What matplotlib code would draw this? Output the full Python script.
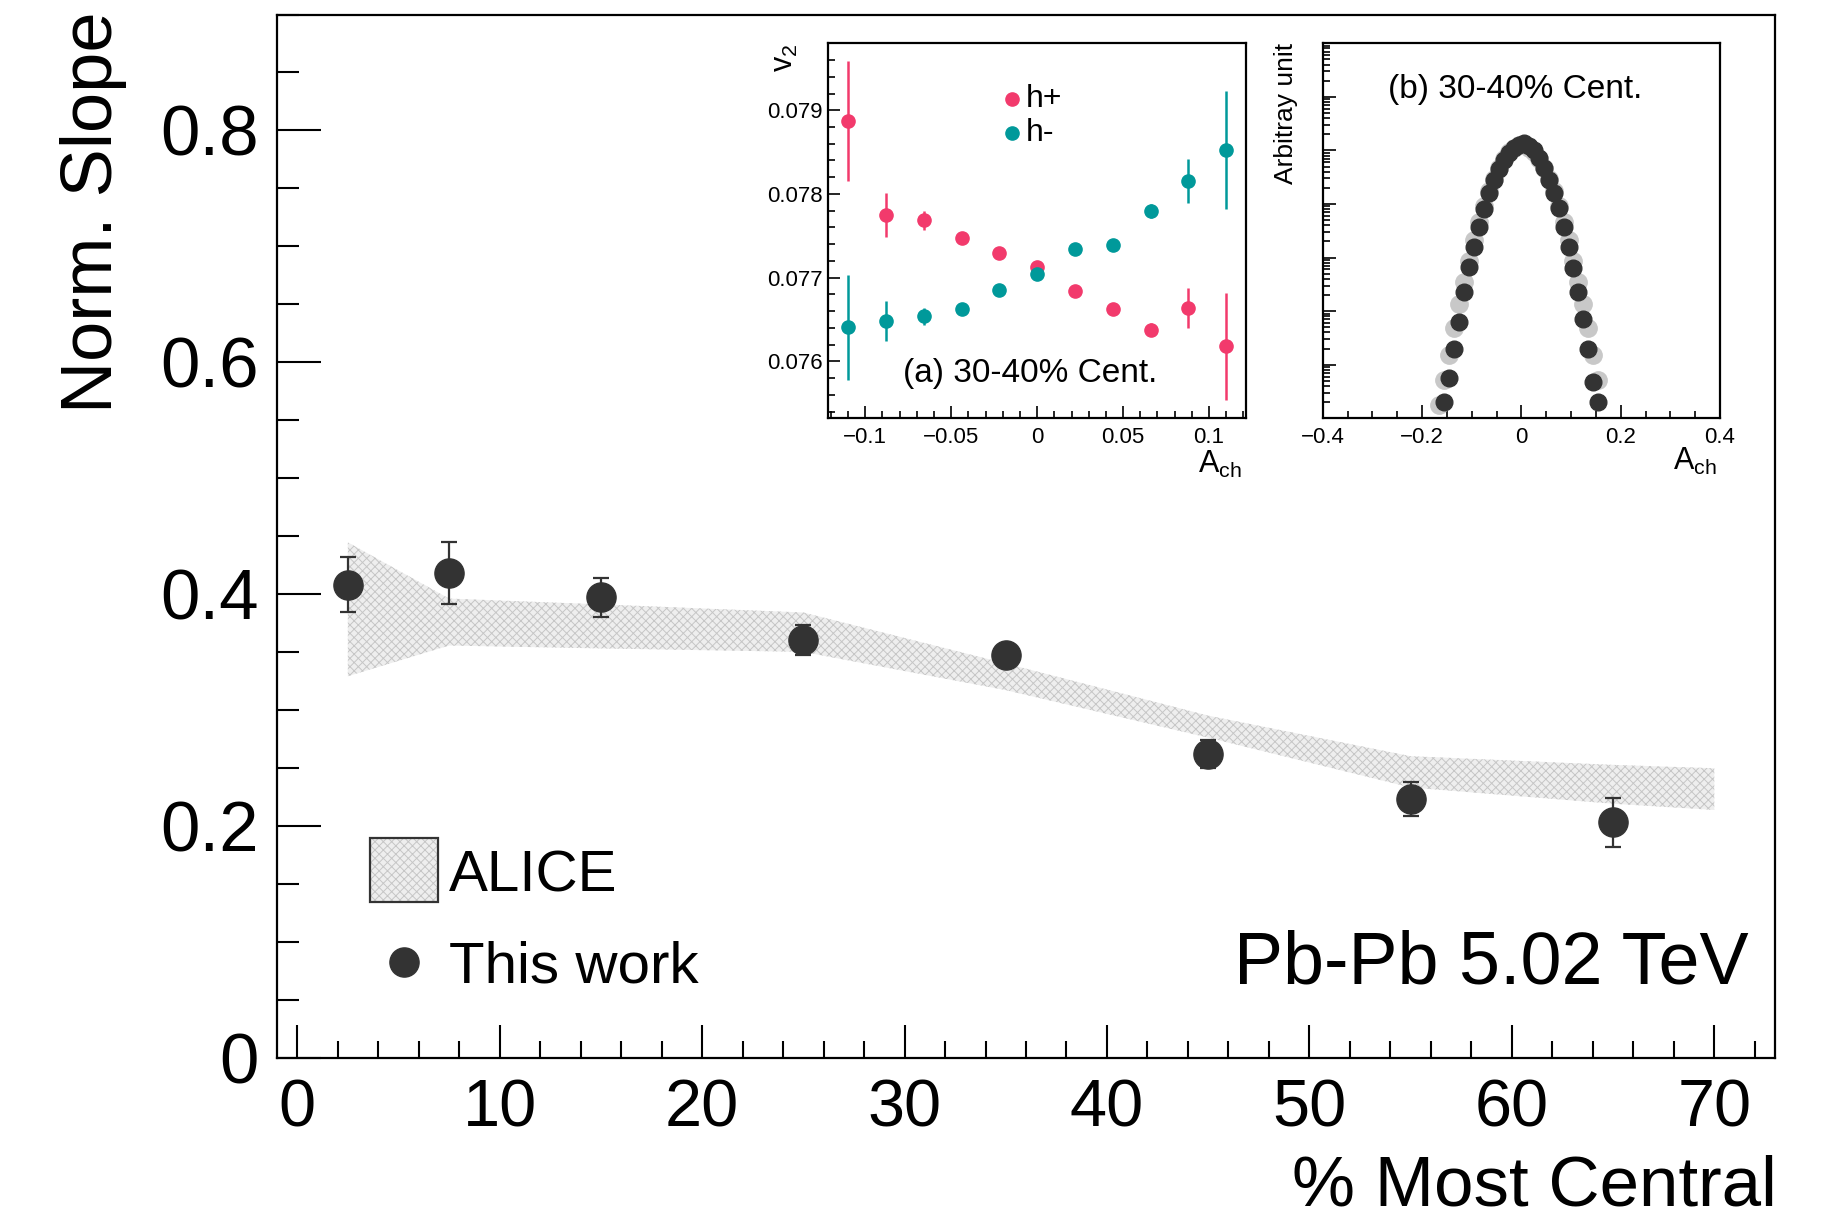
import matplotlib
matplotlib.use("Agg")
import matplotlib.pyplot as plt
from matplotlib.patches import Rectangle
from matplotlib.lines import Line2D
from matplotlib.ticker import MultipleLocator, LogLocator, NullFormatter, FuncFormatter

plt.rcParams['font.family'] = ['Liberation Sans', 'DejaVu Sans']
plt.rcParams['mathtext.fontset'] = 'custom'
plt.rcParams['mathtext.rm'] = 'Liberation Sans'
plt.rcParams['mathtext.it'] = 'Liberation Sans:italic'
plt.rcParams['hatch.color'] = '#c6c6c6'
plt.rcParams['hatch.linewidth'] = 0.7

# ---------------- data ----------------
# normalised slope vs centrality
centrality = [2.5, 7.5, 15, 25, 35, 45, 55, 65]
norm_slope = [0.408, 0.418, 0.397, 0.360, 0.347, 0.262, 0.223, 0.203]
norm_slope_err = [0.024, 0.027, 0.017, 0.013, 0.008, 0.012, 0.015, 0.021]

# ALICE band
alice_cent = [2.5, 7.5, 15, 25, 35, 45, 55, 65, 70]
alice_high = [0.4445, 0.396, 0.391, 0.384, 0.340, 0.295, 0.260, 0.2525, 0.2496]
alice_low = [0.329, 0.3555, 0.353, 0.350, 0.317, 0.276, 0.233, 0.219, 0.2136]

# inset (a): v2 vs A_ch, 30-40% centrality
ach_bins = [-0.11, -0.088, -0.066, -0.044, -0.022, 0.0, 0.022, 0.044, 0.066, 0.088, 0.11]
v2_pos = [0.07887, 0.077748, 0.077684, 0.077476, 0.077297, 0.077125,
          0.076838, 0.076627, 0.076379, 0.076639, 0.07618]
v2_pos_err = [0.00072, 0.00026, 0.00011, 0.00004, 0.00004, 0.00004,
              0.00004, 0.00004, 0.00008, 0.00024, 0.00064]
v2_neg = [0.076407, 0.076487, 0.076539, 0.076627, 0.076858, 0.077045,
          0.077337, 0.077393, 0.077795, 0.078154, 0.078525]
v2_neg_err = [0.00063, 0.00024, 0.00010, 0.00004, 0.00004, 0.00004,
              0.00004, 0.00004, 0.00008, 0.00026, 0.00071]

# inset (b): A_ch distributions, 30-40% centrality
ach_dist_x = [-0.155, -0.145, -0.135, -0.125, -0.115, -0.105, -0.095, -0.085,
              -0.075, -0.065, -0.055, -0.045, -0.035, -0.025, -0.015, -0.005,
              0.005, 0.015, 0.025, 0.035, 0.045, 0.055, 0.065, 0.075,
              0.085, 0.095, 0.105, 0.115, 0.125, 0.135, 0.145, 0.155]
ach_dist_dark = [2.0, 5.6, 20, 62, 229, 660, 1585, 3800,
                 7940, 15850, 27540, 44670, 66070, 89125, 109650, 125900,
                 134900, 120200, 100000, 72440, 46770, 28180, 16220, 8320,
                 3715, 1585, 631, 224, 71, 19.5, 4.7, 2.0]
ach_dist_x_light = [-0.165, -0.155, -0.145, -0.135, -0.125, -0.115, -0.105, -0.095,
                    -0.085, -0.075, -0.065, -0.055, -0.045, -0.035, -0.025, -0.015,
                    -0.005, 0.005, 0.015, 0.025, 0.035, 0.045, 0.055, 0.065,
                    0.075, 0.085, 0.095, 0.105, 0.115, 0.125, 0.135, 0.145, 0.155]
ach_dist_light = [1.8, 5.2, 15, 48, 135, 355, 850, 2140,
                  4570, 9330, 17380, 29510, 46770, 69180, 93330, 112200,
                  125900, 125900, 112200, 93330, 69180, 46770, 29510, 17380,
                  9330, 4570, 2140, 850, 355, 135, 48, 15, 5.2]

# ---------------- layout helpers ----------------
W, H = 1830, 1223
fig = plt.figure(figsize=(W / 100, H / 100), dpi=100)


def box(l, t, r, b):
    return [l / W, 1 - b / H, (r - l) / W, (b - t) / H]


def fx(x):
    return x / W


def fy(y):
    return 1 - y / H


dark = '#333333'
band_face = '#eeeeee'

# ---------------- main panel ----------------
ax = fig.add_axes(box(277, 14.5, 1775, 1057.5))
ax.set_xlim(-1, 73)
ax.set_ylim(0, 0.9)

ax.fill_between(alice_cent, alice_low, alice_high, facecolor=band_face,
                hatch='xxxx', linewidth=0, zorder=1)
ax.errorbar(centrality, norm_slope, yerr=norm_slope_err, fmt='o', ms=21,
            color=dark, ecolor=dark, elinewidth=1.6, capsize=6, capthick=1.6,
            zorder=3)

ax.xaxis.set_major_locator(MultipleLocator(10))
ax.xaxis.set_minor_locator(MultipleLocator(2))
ax.yaxis.set_major_locator(MultipleLocator(0.2))
ax.yaxis.set_minor_locator(MultipleLocator(0.05))
ax.yaxis.set_major_formatter(FuncFormatter(lambda v, p: '0' if abs(v) < 1e-9 else f'{v:.1f}'))
ax.xaxis.set_major_formatter(FuncFormatter(lambda v, p: f'{v:.0f}'))
ax.tick_params(which='both', direction='in', top=False, right=False, width=1.5, color='black')
ax.tick_params(axis='y', which='major', length=31.5, labelsize=51, pad=13)
ax.tick_params(axis='y', which='minor', length=15.8)
ax.tick_params(axis='x', which='major', length=23.8, labelsize=48, pad=15)
ax.tick_params(axis='x', which='minor', length=12)
for s in ax.spines.values():
    s.set_linewidth(1.6)

fig.text(fx(111.7), fy(11.7), 'Norm. Slope', rotation=90, rotation_mode='anchor',
         ha='right', va='baseline', fontsize=52)
fig.text(fx(1777), fy(1206), '% Most Central', ha='right', va='baseline', fontsize=51)
fig.text(fx(1234), fy(983), 'Pb-Pb 5.02 TeV', ha='left', va='baseline', fontsize=53)

# legend
fig.patches.append(Rectangle((fx(370), fy(901.7)), (438.3 - 370) / W, (901.7 - 838.3) / H,
                             transform=fig.transFigure, facecolor=band_face,
                             hatch='xxxx', linewidth=0))
fig.patches.append(Rectangle((fx(370), fy(901.7)), (438.3 - 370) / W, (901.7 - 838.3) / H,
                             transform=fig.transFigure, fill=False,
                             edgecolor=dark, linewidth=1.6))
fig.text(fx(449), fy(870.3), 'ALICE', ha='left', va='center_baseline', fontsize=42)
fig.lines.append(Line2D([fx(404.3)], [fy(961.7)], transform=fig.transFigure,
                        marker='o', ms=21, color=dark, linestyle='none'))
fig.text(fx(449), fy(961.7), 'This work', ha='left', va='center_baseline', fontsize=42)

# ---------------- inset (a) ----------------
pink = '#f23a6c'
teal = '#00999a'
axa = fig.add_axes(box(828.3, 43.3, 1246, 418.3))
axa.set_xlim(-0.1215, 0.1215)
axa.set_ylim(0.07532, 0.0798)
axa.errorbar(ach_bins, v2_pos, yerr=v2_pos_err, fmt='o', ms=9.5, color=pink,
             ecolor=pink, elinewidth=1.8, capsize=0, zorder=3)
axa.errorbar(ach_bins, v2_neg, yerr=v2_neg_err, fmt='o', ms=9.5, color=teal,
             ecolor=teal, elinewidth=1.8, capsize=0, zorder=3)
axa.xaxis.set_major_locator(MultipleLocator(0.05))
axa.xaxis.set_minor_locator(MultipleLocator(0.01))
axa.yaxis.set_major_locator(MultipleLocator(0.001))
axa.yaxis.set_minor_locator(MultipleLocator(0.0002))
axa.xaxis.set_major_formatter(FuncFormatter(
    lambda v, p: '0' if abs(v) < 1e-9 else f'{v:g}'.replace('-', '\u2212')))
axa.yaxis.set_major_formatter(FuncFormatter(lambda v, p: f'{v:.3f}'))
axa.tick_params(which='both', direction='in', top=False, right=False, width=1.2)
axa.tick_params(which='major', length=8.6, labelsize=16)
axa.tick_params(which='minor', length=5)
axa.tick_params(axis='x', pad=6)
axa.tick_params(axis='y', pad=4)
for s in axa.spines.values():
    s.set_linewidth(1.6)

fig.lines.append(Line2D([fx(1011.7)], [fy(99.3)], transform=fig.transFigure,
                        marker='o', ms=9.5, color=pink, linestyle='none'))
fig.lines.append(Line2D([fx(1011.7)], [fy(133.3)], transform=fig.transFigure,
                        marker='o', ms=9.5, color=teal, linestyle='none'))
fig.text(fx(1026), fy(107.3), 'h+', ha='left', va='baseline', fontsize=23)
fig.text(fx(1026), fy(140.7), 'h-', ha='left', va='baseline', fontsize=23)
fig.text(fx(903), fy(381.7), '(a) 30-40% Cent.', ha='left', va='baseline', fontsize=24)
fig.text(fx(793), fy(44), r'v$_{2}$', rotation=90, rotation_mode='anchor',
         ha='right', va='baseline', fontsize=22)
fig.text(fx(1242), fy(473), r'A$_{\mathrm{ch}}$', ha='right', va='baseline', fontsize=22)

# ---------------- inset (b) ----------------
axb = fig.add_axes(box(1322.7, 43.3, 1720, 418.3))
axb.set_yscale('log')
axb.set_xlim(-0.4, 0.4)
axb.set_ylim(1, 1e7)
axb.plot(ach_dist_x_light, ach_dist_light, 'o', ms=12.5, color='#c8c8c8', zorder=2)
axb.plot(ach_dist_x, ach_dist_dark, 'o', ms=12, color=dark, zorder=3)
axb.xaxis.set_major_locator(MultipleLocator(0.2))
axb.xaxis.set_minor_locator(MultipleLocator(0.05))
axb.xaxis.set_major_formatter(FuncFormatter(
    lambda v, p: '0' if abs(v) < 1e-9 else f'{v:.1f}'.replace('-', '\u2212')))
axb.yaxis.set_major_locator(LogLocator(base=10, numticks=20))
axb.yaxis.set_minor_locator(LogLocator(base=10, subs=range(2, 10), numticks=20))
axb.yaxis.set_major_formatter(NullFormatter())
axb.yaxis.set_minor_formatter(NullFormatter())
axb.tick_params(which='both', direction='in', top=False, right=False, width=1.2)
axb.tick_params(which='major', length=9.5, labelsize=16)
axb.tick_params(which='minor', length=5)
axb.tick_params(axis='x', pad=6)
for s in axb.spines.values():
    s.set_linewidth(1.6)

fig.text(fx(1388), fy(98.3), '(b) 30-40% Cent.', ha='left', va='baseline', fontsize=24)
fig.text(fx(1293), fy(43), 'Arbitray unit', rotation=90, rotation_mode='anchor',
         ha='right', va='baseline', fontsize=19)
fig.text(fx(1717), fy(470), r'A$_{\mathrm{ch}}$', ha='right', va='baseline', fontsize=22)

fig.savefig('out.png', dpi=100)
